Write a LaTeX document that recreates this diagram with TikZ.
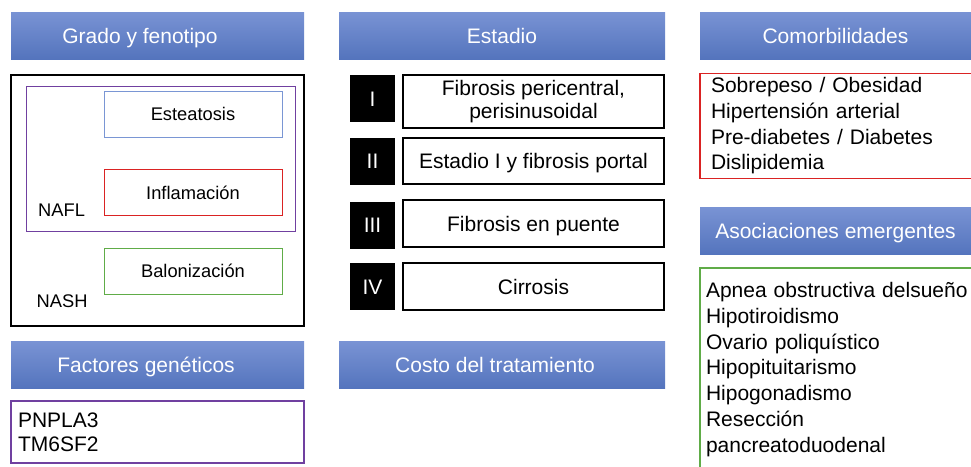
\documentclass[tikz,border=0pt]{standalone}
\usepackage{fontspec}
\setmainfont{Liberation Sans}
\definecolor{hdtop}{RGB}{121,147,212}
\definecolor{hdbot}{RGB}{84,116,189}
\definecolor{azul}{RGB}{122,150,212}
\definecolor{morado}{RGB}{112,64,160}
\definecolor{rojo}{RGB}{218,35,35}
\definecolor{verde}{RGB}{96,172,72}
\begin{document}
\begin{tikzpicture}[x=1pt, y=-1pt,
    titulo/.style={rectangle, top color=hdtop, bottom color=hdbot, text=white,
      minimum height=47pt, inner sep=0pt, text height=15pt, text depth=0pt,
      font=\fontsize{21}{25}\selectfont},
    caja/.style={draw, rectangle, line width=1pt, minimum width=178pt, minimum height=46pt,
      inner sep=0pt, text height=13.2pt, text depth=0pt, font=\fontsize{18.3}{22}\selectfont},
    etiqueta/.style={inner sep=0pt, anchor=west, text height=13.2pt, text depth=0pt,
      font=\fontsize{18.3}{22}\selectfont},
    numero/.style={fill=black, text=white, minimum width=45pt, minimum height=47pt,
      inner sep=0pt, text height=15pt, text depth=0pt, font=\fontsize{21}{25}\selectfont},
    etapa/.style={draw, line width=1.2pt, minimum width=261pt, minimum height=47pt,
      inner sep=0pt, align=center, font=\fontsize{21}{23.4}\selectfont},
    lista/.style={draw, rectangle, line width=1.1pt, align=left, inner ysep=0pt,
      font=\fontsize{21}{25.7}\selectfont}]

  % tamaño de la figura
  \useasboundingbox (0,0) rectangle (971,466);

  % Grado y fenotipo
  \node[titulo, minimum width=293pt] (tgrado) at (157.5,35.5) {\hspace*{-35pt}Grado y fenotipo};
  \node[draw, line width=1.2pt, minimum width=293pt, minimum height=251pt] (grado) at (157.5,200.5) {};
  \node[draw=morado, line width=1pt, minimum width=269pt, minimum height=145pt] (nafl) at (160.5,158.5) {};
  \node[caja, draw=azul] (esteatosis) at (193,114) {Esteatosis};
  \node[caja, draw=rojo] (inflamacion) at (193,192.5) {Inflamación};
  \node[caja, draw=verde] (balonizacion) at (193,271) {Balonización};
  \node[etiqueta] (lnafl) at (38,209.5) {NAFL};
  \node[etiqueta] (lnash) at (36.5,301) {NASH};

  % Factores genéticos
  \node[titulo, minimum width=293pt] (tfactores) at (157.5,365) {\hspace*{-23pt}Factores genéticos};
  \node[lista, draw=morado, inner xsep=7pt, text width=279pt, minimum height=62pt,
        font=\fontsize{21}{24.4}\selectfont] (factores) at (157.5,432) {PNPLA3\\TM6SF2};

  % Estadio
  \node[titulo, minimum width=326pt] (testadio) at (502,35.5) {Estadio};
  \node[numero] (n1) at (372.5,98.5) {I};
  \node[etapa, minimum height=53pt] (e1) at (533.5,101.5) {Fibrosis pericentral,\\perisinusoidal};
  \node[numero] (n2) at (372.5,161) {II};
  \node[etapa, minimum height=46pt, text height=15pt, text depth=0pt] (e2) at (533.5,161) {Estadio I y fibrosis portal};
  \node[numero] (n3) at (372.5,225) {III};
  \node[etapa, text height=15pt, text depth=0pt] (e3) at (533.5,223.5) {Fibrosis en puente};
  \node[numero] (n4) at (372.5,286.5) {IV};
  \node[etapa, text height=15pt, text depth=0pt] (e4) at (533.5,286.5) {Cirrosis};

  % Costo del tratamiento
  \node[titulo, minimum width=326pt] (tcosto) at (502,365) {\hspace*{-14pt}Costo del tratamiento};

  % Comorbilidades
  \node[titulo, minimum width=277pt] (tcomor) at (838.5,35.5) {\hspace*{-6pt}Comorbilidades};
  \node[lista, draw=rojo, inner xsep=11pt, text width=255pt, minimum height=105pt] (comor) at (838.5,126) {Sobrepeso / Obesidad\\Hipertensión arterial\\Pre-diabetes / Diabetes\\Dislipidemia};

  % Asociaciones emergentes
  \node[titulo, minimum width=277pt] (tasoc) at (838.5,231) {\hspace*{-6pt}Asociaciones emergentes};
  \node[lista, draw=verde, inner xsep=6pt, text width=265pt, minimum height=203pt] (asoc) at (838.5,369.5) {Apnea obstructiva delsueño\\Hipotiroidismo\\Ovario poliquístico\\Hipopituitarismo\\Hipogonadismo\\Resección\\pancreatoduodenal};
\end{tikzpicture}
\end{document}
